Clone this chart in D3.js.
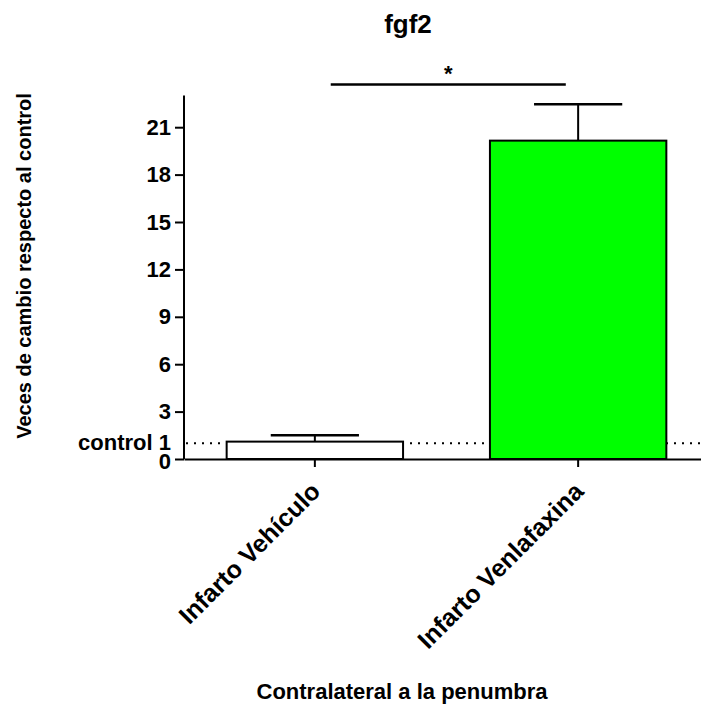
<!DOCTYPE html>
<html>
<head>
<meta charset="utf-8">
<script src="https://cdn.jsdelivr.net/npm/d3@7"></script>
<style>
	body { margin: 0; background: #fff; }
	svg text { font-family: "Liberation Sans", Arial, sans-serif; font-weight: bold; fill: #000; }
	.axis path, .axis line { stroke: #000; stroke-width: 2px; }
</style>
</head>
<body>
<svg id="graph"></svg>
<script>
var categories = ["Infarto Vehículo", "Infarto Venlafaxina"],
	means = [1.1, 20.15],
	errors = [0.4, 2.3],
	fills = ["#ffffff", "#00ff00"],
	yTicks = [0, 3, 6, 9, 12, 15, 18, 21],
	controlValue = 1,
	sigBar = {from: 0, to: 1, value: 23.7, label: "*"};

document.addEventListener("DOMContentLoaded", function(event) {
	var width = 701, height = 717,
		graph = d3.select("#graph").attr("width", width).attr("height", height),
		g = graph.append("g");

	//scales
	var x = d3.scaleBand().domain(categories).range([184, 709]).paddingInner(0.33).paddingOuter(0.162),
		y = d3.scaleLinear().domain([0, 23]).range([459, 95.6]);

	//control dotted line, behind bars
	g.append("line")
		.attr("x1", 186).attr("x2", width)
		.attr("y1", y(controlValue)).attr("y2", y(controlValue))
		.attr("stroke", "#000").attr("stroke-width", 2)
		.attr("stroke-dasharray", "2,6");

	var data = categories.map(function(c, i) { return {cat: c, mean: means[i], err: errors[i], fill: fills[i]}; });

	//error bars
	var eb = g.selectAll(".err").data(data).enter().append("g").attr("class", "err");
	eb.append("line")
		.attr("x1", function(d) { return x(d.cat) + x.bandwidth() / 2; })
		.attr("x2", function(d) { return x(d.cat) + x.bandwidth() / 2; })
		.attr("y1", function(d) { return y(d.mean); })
		.attr("y2", function(d) { return y(d.mean + d.err); })
		.attr("stroke", "#000").attr("stroke-width", 2);
	eb.append("line")
		.attr("x1", function(d) { return x(d.cat) + x.bandwidth() / 4; })
		.attr("x2", function(d) { return x(d.cat) + x.bandwidth() * 3 / 4; })
		.attr("y1", function(d) { return y(d.mean + d.err); })
		.attr("y2", function(d) { return y(d.mean + d.err); })
		.attr("stroke", "#000").attr("stroke-width", 2.5);

	//bars
	g.selectAll(".bar").data(data).enter().append("rect")
		.attr("class", "bar")
		.attr("x", function(d) { return x(d.cat); })
		.attr("y", function(d) { return y(d.mean); })
		.attr("width", x.bandwidth())
		.attr("height", function(d) { return y(0) - y(d.mean); })
		.attr("fill", function(d) { return d.fill; })
		.attr("stroke", "#000").attr("stroke-width", 2);

	//axes
	var yAxis = d3.axisLeft(y).tickValues(yTicks).tickSize(9).tickPadding(4).tickSizeOuter(0),
		xAxis = d3.axisBottom(x).tickSize(8).tickSizeOuter(0).tickFormat("");

	var ya = g.append("g").attr("class", "axis yaxis")
		.attr("transform", "translate(184,0)")
		.call(yAxis);
	ya.select(".domain").attr("d", "M0," + y(23) + "V" + y(0));
	ya.selectAll(".tick text").style("font-size", "22px").style("font-family", null);
	ya.selectAll(".tick").filter(function(d) { return d === 0; }).select("text").attr("dy", "0.45em");

	g.append("g").attr("class", "axis xaxis")
		.attr("transform", "translate(0," + y(0) + ")")
		.call(xAxis);

	//control label
	g.append("text")
		.attr("x", 171).attr("y", y(controlValue)).attr("dy", "0.3em")
		.attr("text-anchor", "end").style("font-size", "22px")
		.text("control 1");

	//category labels
	g.selectAll(".catlabel").data(categories).enter().append("text")
		.attr("class", "catlabel")
		.attr("text-anchor", "end")
		.style("font-size", "25px")
		.attr("transform", function(d) { return "translate(" + (x(d) + x.bandwidth() / 2 + 7) + ",493) rotate(-45)"; })
		.text(function(d) { return d; });

	//significance bracket
	var sx1 = x(categories[sigBar.from]) + x.bandwidth() * 0.59,
		sx2 = x(categories[sigBar.to]) + x.bandwidth() * 0.43;
	g.append("line")
		.attr("x1", sx1).attr("x2", sx2)
		.attr("y1", y(sigBar.value)).attr("y2", y(sigBar.value))
		.attr("stroke", "#000").attr("stroke-width", 2.5);
	g.append("text")
		.attr("x", (sx1 + sx2) / 2).attr("y", y(sigBar.value) - 4)
		.attr("text-anchor", "middle").style("font-size", "22px")
		.text(sigBar.label);

	//titles
	graph.append("text")
		.attr("x", 408).attr("y", 33)
		.attr("text-anchor", "middle").style("font-size", "26px")
		.text("fgf2");

	graph.append("text")
		.attr("transform", "translate(31,266) rotate(-90)")
		.attr("text-anchor", "middle").style("font-size", "20px")
		.text("Veces de cambio respecto al control");

	graph.append("text")
		.attr("x", 402).attr("y", 699)
		.attr("text-anchor", "middle").style("font-size", "22px")
		.text("Contralateral a la penumbra");
});
</script>
</body>
</html>
